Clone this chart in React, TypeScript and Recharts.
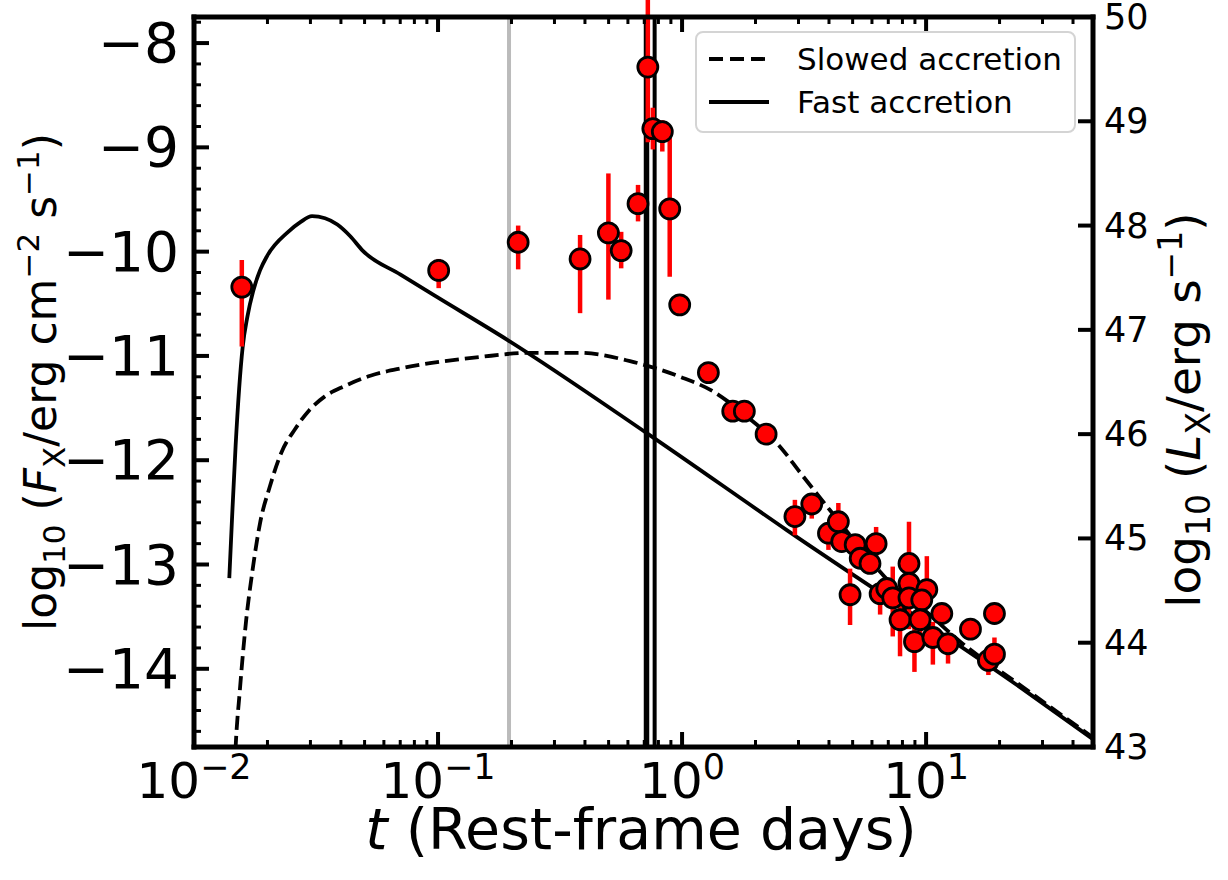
import React from "react";
import {
  ComposedChart,
  Line,
  Scatter,
  ErrorBar,
  XAxis,
  YAxis,
  ReferenceLine,
  Legend,
} from "recharts";

document.body.style.margin = "0";

const FONT = "DejaVu Sans, Liberation Sans, sans-serif";

// observed X-ray points: rest-frame days, log10 flux, error bar (down, up)
const obsT = [
  0.0157, 0.1006, 0.213, 0.382, 0.499, 0.563, 0.66, 0.724, 0.759, 0.83, 0.89, 0.978,
  1.282, 1.613, 1.8, 2.21, 2.9, 3.4, 3.98, 4.37, 4.51, 5.12, 5.37, 5.89, 6.24, 4.88,
  6.48, 6.9, 7.3, 8.51, 8.51, 8.51, 10.07, 9.6, 7.82, 9.45, 11.6, 8.96, 10.66, 12.3,
  15.2, 19.06, 18.0, 19.06,
];
const obsF = [
  -10.34, -10.18, -9.91, -10.07, -9.82, -9.99, -9.54, -8.23, -8.82, -8.85, -9.59, -10.51,
  -11.16, -11.53, -11.53, -11.75, -12.54, -12.42, -12.7, -12.59, -12.78, -12.81, -12.94, -12.99, -12.8, -13.29,
  -13.28, -13.23, -13.32, -12.99, -13.18, -13.32, -13.24, -13.34, -13.53, -13.53, -13.47, -13.74, -13.7, -13.76,
  -13.62, -13.47, -13.92, -13.86,
];
const errDown = [
  0.57, 0.17, 0.26, 0.52, 0.64, 0.17, 0.17, 0.72, 0.2, 0.19, 0.65, 0.04,
  0.03, 0.03, 0.03, 0.03, 0.18, 0.14, 0.16, 0.1, 0.1, 0.1, 0.1, 0.1, 0.12, 0.29,
  0.2, 0.1, 0.37, 0.15, 0.1, 0.3, 0.15, 0.15, 0.35, 0.2, 0.1, 0.29, 0.26, 0.19,
  0.04, 0.04, 0.14, 0.1,
];
const errUp = [
  0.26, 0.11, 0.16, 0.23, 0.57, 0.18, 0.18, 0.7, 0.2, 0.11, 0.68, 0.04,
  0.03, 0.03, 0.03, 0.03, 0.16, 0.1, 0.1, 0.18, 0.1, 0.1, 0.1, 0.1, 0.16, 0.25,
  0.1, 0.1, 0.3, 0.4, 0.1, 0.1, 0.32, 0.15, 0.15, 0.2, 0.1, 0.15, 0.15, 0.1,
  0.04, 0.04, 0.1, 0.16,
];

// model curves
const fastT = [
  0.013953, 0.01431, 0.01481, 0.01582, 0.01656, 0.01747, 0.01864, 0.01995, 0.02432, 0.0272, 0.03045,
  0.03443, 0.03867, 0.04359, 0.04909, 0.07021, 0.09585, 0.19363, 0.7166, 2.686, 24.74, 48.3,
];
const fastF = [
  -13.13, -12.57, -11.86, -10.92, -10.62, -10.38, -10.18, -10.04, -9.81, -9.72, -9.66,
  -9.68, -9.74, -9.85, -9.99, -10.22, -10.415, -10.85, -11.74, -12.67, -14.19, -14.675,
];
const slowT = [
  0.01466, 0.01481, 0.01542, 0.01635, 0.01736, 0.01866, 0.02047, 0.02277, 0.02597, 0.02968,
  0.03428, 0.0413, 0.05281, 0.0702, 0.0927, 0.1486, 0.2383, 0.382, 0.612, 0.981, 1.34,
  1.84, 2.52, 3.05, 4.04, 5.37, 7.11, 9.45, 13.8, 24.74, 48.3,
];
const slowF = [
  -14.97, -14.75, -14.2, -13.54, -13.06, -12.6, -12.25, -11.93, -11.7, -11.52,
  -11.39, -11.29, -11.19, -11.12, -11.07, -11.01, -10.97, -10.97, -11.05, -11.2, -11.34,
  -11.58, -11.87, -12.12, -12.48, -12.84, -13.17, -13.4, -13.74, -14.17, -14.66,
];

const vLines = [
  { t: 0.1954, color: "#bbbbbb", w: 4 },
  { t: 0.715, color: "#000000", w: 5.5 },
  { t: 0.772, color: "#000000", w: 4 },
];

const xMajor = [0.01, 0.1, 1, 10];
const xExp = ["\u22122", "\u22121", "0", "1"];
const xMinor = [
  0.02, 0.03, 0.04, 0.05, 0.06, 0.07, 0.08, 0.09,
  0.2, 0.3, 0.4, 0.5, 0.6, 0.7, 0.8, 0.9,
  2, 3, 4, 5, 6, 7, 8, 9, 20, 30, 40,
];
const yMajor = [-14, -13, -12, -11, -10, -9, -8];
const yMinor: number[] = [];
for (let i = -73; i <= -39; i++) {
  if (i % 5 !== 0) yMinor.push(Math.round(i * 20) / 100);
}
const rMajor = [43, 44, 45, 46, 47, 48, 49, 50];
const seriesNames = ["Slowed accretion", "Fast accretion"];

const obsData = obsT.map((t, i) => ({ t, f: obsF[i], err: [errDown[i], errUp[i]] }));
const fastData = fastT.map((t, i) => ({ t, f: fastF[i] }));
const slowData = slowT.map((t, i) => ({ t, f: slowF[i] }));

const isMajorX = (v: number) => xMajor.some((m) => Math.abs(m - v) < 1e-9);

const BottomTick = (props: any) => {
  const { x, y, payload } = props;
  const v = payload.value;
  const major = isMajorX(v);
  const idx = xMajor.findIndex((m) => Math.abs(m - v) < 1e-9);
  return (
    <g>
      <line x1={x} x2={x} y1={y} y2={y - (major ? 15 : 7)} stroke="#000" strokeWidth={major ? 4 : 3} />
      {major && (
        <text x={x} y={y + 51} textAnchor="middle" fontSize={50} fontFamily={FONT} fill="#000">
          10
          <tspan dy={-19} fontSize={35}>
            {xExp[idx]}
          </tspan>
        </text>
      )}
    </g>
  );
};

const TopTick = (props: any) => {
  const { x, y, payload } = props;
  const major = isMajorX(payload.value);
  return <line x1={x} x2={x} y1={y} y2={y + (major ? 15 : 7)} stroke="#000" strokeWidth={major ? 4 : 3} />;
};

const LeftTick = (props: any) => {
  const { x, y, payload } = props;
  const v = payload.value;
  const major = yMajor.includes(v);
  return (
    <g>
      <line x1={x} x2={x + (major ? 15 : 7)} y1={y} y2={y} stroke="#000" strokeWidth={major ? 4 : 3} />
      {major && (
        <text x={x - 15} y={y} textAnchor="end" dominantBaseline="central" fontSize={55} fontFamily={FONT} fill="#000">
          {String(v).replace("-", "\u2212")}
        </text>
      )}
    </g>
  );
};

const RightTick = (props: any) => {
  const { x, y, payload } = props;
  return (
    <g>
      <line x1={x} x2={x - 15} y1={y} y2={y} stroke="#000" strokeWidth={4} />
      <text x={x + 11} y={y} dominantBaseline="central" fontSize={35} fontFamily={FONT} fill="#000">
        {payload.value}
      </text>
    </g>
  );
};

const XTitle = () => (
  <text x={641} y={849} textAnchor="middle" fontSize={57} fontFamily={FONT} fill="#000">
    <tspan fontStyle="italic">t</tspan> (Rest-frame days)
  </text>
);

const LeftTitle = () => (
  <text
    transform="translate(56,382) rotate(-90)"
    textAnchor="middle"
    fontSize={44}
    fontFamily={FONT}
    fill="#000"
    style={{ whiteSpace: "pre" }}
  >
    log
    <tspan fontSize={31} dy={9}>10</tspan>
    <tspan dy={-9}> (</tspan>
    <tspan fontStyle="italic">F</tspan>
    <tspan fontSize={31} dy={9}>X</tspan>
    <tspan dy={-9}>/erg cm</tspan>
    <tspan fontSize={31} dy={-17}>{"\u22122"}</tspan>
    <tspan dy={17}> s</tspan>
    <tspan fontSize={31} dy={-17}>{"\u22121"}</tspan>
    <tspan dy={17}>)</tspan>
  </text>
);

const RightTitle = () => (
  <text
    transform="translate(1200,410) rotate(-90)"
    textAnchor="middle"
    fontSize={47}
    fontFamily={FONT}
    fill="#000"
    style={{ whiteSpace: "pre" }}
  >
    log
    <tspan fontSize={33} dy={10}>10</tspan>
    <tspan dy={-10}> (</tspan>
    <tspan fontStyle="italic">L</tspan>
    <tspan fontSize={33} dy={10}>X</tspan>
    <tspan dy={-10}>/erg s</tspan>
    <tspan fontSize={33} dy={-18}>{"\u22121"}</tspan>
    <tspan dy={18}>)</tspan>
  </text>
);

const Dot = (props: any) => {
  const { cx, cy } = props;
  if (cx == null || cy == null) return null;
  return <circle cx={cx} cy={cy} r={10} fill="#ff0000" stroke="#000" strokeWidth={2.8} />;
};

const LegendBox = () => (
  <div
    style={{
      width: 381,
      height: 102,
      boxSizing: "border-box",
      border: "2px solid #d4d4d4",
      borderRadius: 8,
      background: "rgba(255,255,255,0.8)",
      position: "relative",
      fontFamily: FONT,
      fontSize: 31,
      color: "#000",
    }}
  >
    {seriesNames.map((name, i) => (
      <div key={name} style={{ position: "absolute", left: 10, top: 6 + i * 43, height: 40, display: "flex", alignItems: "center" }}>
        <svg width={64} height={10} style={{ display: "block" }}>
          <line x1={2} x2={62} y1={5} y2={5} stroke="#000" strokeWidth={3.8} strokeDasharray={i === 0 ? "14 7" : undefined} />
        </svg>
        <span style={{ marginLeft: 26, lineHeight: "40px", whiteSpace: "nowrap" }}>{name}</span>
      </div>
    ))}
  </div>
);

const axisLine = { stroke: "#000", strokeWidth: 5, strokeLinecap: "square" as const };

export default function App() {
  return (
    <ComposedChart width={1228} height={880} margin={{ top: 16, right: 134, bottom: 132, left: 193 }}>
      <XAxis
        xAxisId="b"
        dataKey="t"
        type="number"
        scale="log"
        domain={[0.01, 48.3]}
        allowDataOverflow
        ticks={[...xMajor, ...xMinor]}
        interval={0}
        height={1}
        tickSize={0}
        tickMargin={0}
        tickLine={false}
        axisLine={axisLine}
        tick={<BottomTick />}
        label={{ content: () => <XTitle /> }}
      />
      <XAxis
        xAxisId="top"
        orientation="top"
        dataKey="t"
        type="number"
        scale="log"
        domain={[0.01, 48.3]}
        allowDataOverflow
        ticks={[...xMajor, ...xMinor]}
        interval={0}
        height={1}
        tickSize={0}
        tickMargin={0}
        tickLine={false}
        axisLine={axisLine}
        tick={<TopTick />}
      />
      <YAxis
        yAxisId="l"
        type="number"
        domain={[-14.75, -7.75]}
        allowDataOverflow
        ticks={[...yMajor, ...yMinor]}
        interval={0}
        width={1}
        tickSize={0}
        tickMargin={0}
        tickLine={false}
        axisLine={axisLine}
        tick={<LeftTick />}
        label={{ content: () => <LeftTitle /> }}
      />
      <YAxis
        yAxisId="r"
        orientation="right"
        type="number"
        domain={[43, 50]}
        allowDataOverflow
        ticks={rMajor}
        interval={0}
        width={1}
        tickSize={0}
        tickMargin={0}
        tickLine={false}
        axisLine={axisLine}
        tick={<RightTick />}
        label={{ content: () => <RightTitle /> }}
      />
      {vLines.map((v) => (
        <ReferenceLine key={v.t} x={v.t} xAxisId="b" yAxisId="l" stroke={v.color} strokeWidth={v.w} ifOverflow="hidden" />
      ))}
      <Line
        data={slowData}
        xAxisId="b"
        yAxisId="l"
        dataKey="f"
        name={seriesNames[0]}
        type="monotone"
        stroke="#000"
        strokeWidth={3.8}
        strokeDasharray="14 6"
        dot={false}
        activeDot={false}
        isAnimationActive={false}
      />
      <Line
        data={fastData}
        xAxisId="b"
        yAxisId="l"
        dataKey="f"
        name={seriesNames[1]}
        type="monotone"
        stroke="#000"
        strokeWidth={3.8}
        dot={false}
        activeDot={false}
        isAnimationActive={false}
      />
      <Scatter data={obsData} xAxisId="b" yAxisId="l" dataKey="f" shape={<Dot />} isAnimationActive={false}>
        <ErrorBar dataKey="err" direction="y" width={0} stroke="#ff0000" strokeWidth={4.5} isAnimationActive={false} />
      </Scatter>
      <Legend
        layout="horizontal"
        verticalAlign="middle"
        align="center"
        wrapperStyle={{ left: 695, top: 31, width: 381 }}
        content={() => <LegendBox />}
      />
    </ComposedChart>
  );
}
